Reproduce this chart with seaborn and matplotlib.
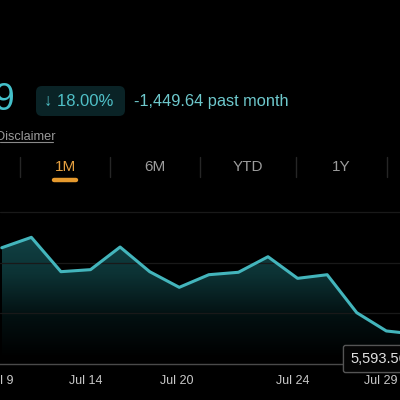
import numpy as np
import pandas as pd
import matplotlib
matplotlib.use("Agg")
import matplotlib.pyplot as plt
from matplotlib.colors import LinearSegmentedColormap
from matplotlib.patches import FancyBboxPatch
import seaborn as sns

# values (one point per step, last one runs off the right edge)
prices = [6651, 6754, 6414, 6434, 6658, 6414, 6259, 6384, 6408, 6562, 6348, 6384, 6008, 5827, 5795]
# date ticks sit a little before the matching point
tick_pos = [-0.05, 2.85, 5.9, 9.83, 12.8]
tick_labels = ["Jul 9", "Jul 14", "Jul 20", "Jul 24", "Jul 29"]
grid_levels = [6000, 6500, 7000]
tabs = ["1M", "6M", "YTD", "1Y"]
headline = "9"
change_pct = "\u2193 18.00%"
change_abs = "-1,449.64 past month"
hover_value = "5,593.56"

BG = "#000000"
TEAL = "#43b5bc"
FONT = ["Liberation Sans", "DejaVu Sans"]

sns.set_theme(style="dark")
plt.rcParams["font.family"] = FONT
plt.rcParams["figure.facecolor"] = BG
plt.rcParams["axes.facecolor"] = BG

df = pd.DataFrame({"idx": np.arange(len(prices)), "price": prices})

W = H = 400
fig = plt.figure(figsize=(4, 4), dpi=100)


def fx(px):
    return px / W


def fy(py):
    return 1 - py / H


# chart area: from y=195 px down to baseline at 364 px, full width
ax = fig.add_axes([0, fy(364), 1, (364 - 195) / H])
ax.set_facecolor(BG)
step = 29.58
x0 = -0.06
ymin, ymax = 5500, 5500 + 169 * 9.9

# gradient under the line: draw the gradient, then mask out everything above the line
cmap = LinearSegmentedColormap.from_list("fade", ["#000000", "#031011", "#0c3234", "#124346"])
grad = np.linspace(0, 1, 256).reshape(-1, 1)
ax.imshow(grad, cmap=cmap, aspect="auto", origin="lower",
          extent=[0, 15, 5560, 6800], zorder=1)
ax.fill_between(df["idx"], df["price"], ymax + 50, color=BG, lw=0, zorder=2)

for lvl in grid_levels:
    ax.axhline(lvl, color="#191919", lw=0.9, zorder=2.5)

sns.lineplot(data=df, x="idx", y="price", ax=ax, color=TEAL, lw=2.2, zorder=3)

ax.set_xticks(tick_pos)
ax.set_xticklabels(tick_labels)
ax.set_yticks([])
# limits last, set_xticks would otherwise widen them
ax.set_xlim(x0, x0 + W / step)
ax.set_ylim(ymin, ymax)
ax.tick_params(axis="x", direction="in", length=3, width=1, color="#4a4a4a",
               labelcolor="#c9c9c9", labelsize=9, pad=8)
ax.set_xlabel("")
ax.set_ylabel("")
ax.grid(False)
for s in ["top", "right", "left"]:
    ax.spines[s].set_visible(False)
ax.spines["bottom"].set_color("#4a4a4a")
ax.spines["bottom"].set_linewidth(1)
ax.spines["bottom"].set_zorder(4)

# hover value box
fig.text(fx(350), fy(359), hover_value, color="#e2e2e2", fontsize=10.5, va="center", ha="left",
         bbox=dict(boxstyle="round,pad=0.45,rounding_size=0.15", fc="#050505", ec="#555555", lw=1))

# header
fig.text(fx(14), fy(100), headline, color="#44c0ca", fontsize=27, ha="right", va="center")
badge = FancyBboxPatch((fx(36), fy(116)), fx(89), 30 / H,
                       boxstyle="round,pad=0,rounding_size=0.015",
                       transform=fig.transFigure, fc="#0a2326", ec="none")
fig.patches.append(badge)
fig.text(fx(44), fy(101.5), change_pct, color="#4fc0c7", fontsize=12, ha="left", va="center")
fig.text(fx(134), fy(101.5), change_abs, color="#6ec8cc", fontsize=11.8, ha="left", va="center")

fig.text(fx(-4), fy(136.5), "Disclaimer", color="#9a9a9a", fontsize=9.2, ha="left", va="center")
fig.add_artist(plt.Line2D([0, fx(53)], [fy(141.5), fy(141.5)], color="#8a8a8a", lw=0.8,
                          transform=fig.transFigure))

# period tabs
tab_x = [65, 155, 248, 341]
for name, x in zip(tabs, tab_x):
    col = "#e5a040" if name == "1M" else "#9c9c9c"
    fig.text(fx(x), fy(167), name, color=col, fontsize=11, ha="center", va="center")
for x in [20, 110, 200, 296, 387]:
    fig.add_artist(plt.Line2D([fx(x), fx(x)], [fy(157), fy(177)], color="#262626", lw=1,
                              transform=fig.transFigure))
fig.add_artist(plt.Line2D([fx(54), fx(76)], [fy(180), fy(180)], color="#e69a2e", lw=3.2,
                          solid_capstyle="round", transform=fig.transFigure))

fig.savefig("out.png", dpi=100, facecolor=BG)
